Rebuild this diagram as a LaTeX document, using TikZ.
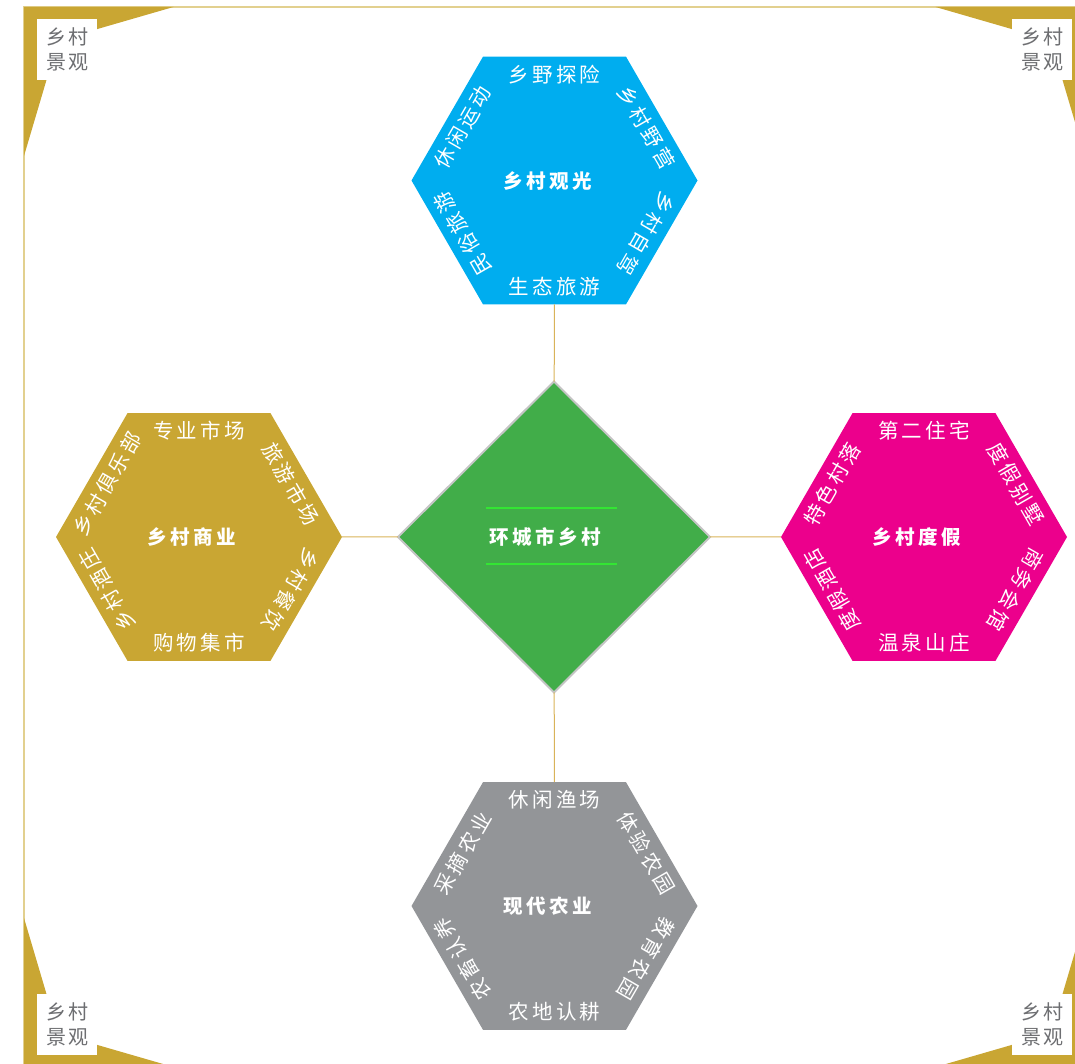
\documentclass[tikz,border=0pt]{standalone}
\usepackage{fontspec}
\usetikzlibrary{shapes.geometric}

\newfontfamily\cjkrim[LetterSpace=15]{Noto Sans CJK SC}
\newfontfamily\cjktag[LetterSpace=10]{Noto Sans CJK SC}
\newfontfamily\cjkhub[LetterSpace=18]{Noto Sans CJK SC}

\definecolor{sightblue}{HTML}{00ADEF}
\definecolor{resortpink}{HTML}{EC008C}
\definecolor{tradegold}{HTML}{C9A633}
\definecolor{farmgray}{HTML}{939598}
\definecolor{hubgreen}{HTML}{41AD49}
\definecolor{hubedge}{HTML}{C4C4C4}
\definecolor{hubline}{HTML}{33E633}
\definecolor{rimgold}{HTML}{E2D08F}
\definecolor{linkgold}{HTML}{D9B359}
\definecolor{taggray}{HTML}{6D6E71}

\tikzset{
  hexbox/.style={regular polygon, regular polygon sides=6, minimum size=286pt,
    inner sep=0pt, outer sep=0pt, text=white,
    font=\cjkhub\bfseries\fontsize{19.5}{22}\selectfont},
  rimtext/.style={text=white, inner sep=0pt,
    font=\cjkrim\fontsize{20.5}{24}\selectfont},
  cornerlabel/.style={fill=white, minimum width=60pt, minimum height=61pt,
    inner sep=0pt, align=left, text=taggray,
    font=\cjktag\fontsize{20}{24.5}\selectfont},
  link/.style={draw=linkgold, line width=1pt}
}

% six texts round a hexagon, from the top edge clockwise
\newcommand{\hexring}[7]{%
  \foreach \ang/\rot/\txt [count=\k] in {90/0/{#2}, 30/-60/{#3}, -30/-120/{#4},
      -90/0/{#5}, -150/120/{#6}, 150/60/{#7}}
    \node[rimtext, rotate=\rot] (#1-\k) at ([shift={(\ang:106)}]#1.center) {\txt};
}

\begin{document}
\begin{tikzpicture}[x=1pt,y=1pt]
        \useasboundingbox (0,0) rectangle (1075,1063);
        \clip (0,0) rectangle (1075,1063);

        % Drawing the frame
        \draw[rimgold, line width=1.5pt] (24,1056) rectangle (1085,-4);

        % Drawing the corner pieces
        \foreach \sx/\sy [count=\k] in {1/1,-1/1,1/-1,-1/-1}{
          \begin{scope}[shift={(554.5,526)}, xscale=\sx, yscale=\sy]
            \fill[tradegold] (-530.5,530) -- (-381,530) -- (-457,508) -- (-508,457) -- (-530.5,381) -- cycle;
            \node[cornerlabel] (tag\k) at (-487.5,487.5) {乡村\\景观};
          \end{scope}
        }

        % Drawing the hexagons
        \node[hexbox, fill=sightblue] (sight) at (554.5,882.5) {乡村观光\kern14pt};
        \node[hexbox, fill=tradegold] (trade) at (199,526) {乡村商业\kern14pt};
        \node[hexbox, fill=resortpink] (resort) at (924,526) {乡村度假\kern14pt};
        \node[hexbox, fill=farmgray] (farm) at (554.5,157) {现代农业\kern14pt};

        % Drawing the centre
        \node[diamond, aspect=1, minimum width=312pt, minimum height=311pt, inner sep=0pt,
          outer sep=0pt, fill=hubgreen, draw=hubedge, line width=2pt, text=white,
          font=\cjkhub\bfseries\fontsize{19.5}{22}\selectfont] (core) at (554,526) {环城市乡村\kern18pt};
        \draw[hubline, line width=2.5pt] ([shift={(-68,29)}]core.center) -- ([shift={(63,29)}]core.center);
        \draw[hubline, line width=2.5pt] ([shift={(-68,-27)}]core.center) -- ([shift={(63,-27)}]core.center);

        % Connectors
        \draw[link] (core) -- (sight);
        \draw[link] (core) -- (trade);
        \draw[link] (core) -- (resort);
        \draw[link] (core) -- (farm);

        % Annotations
        \hexring{sight}{乡野探险}{乡村野营}{乡村自驾}{生态旅游}{民俗旅游}{休闲运动}
        \hexring{trade}{专业市场}{旅游市场}{乡村餐饮}{购物集市}{乡村酒庄}{乡村俱乐部}
        \hexring{resort}{第二住宅}{度假别墅}{商务会馆}{温泉山庄}{度假酒店}{特色村落}
        \hexring{farm}{休闲渔场}{体验农园}{教育农园}{农地认耕}{农畜认养}{采摘农业}

\end{tikzpicture}
\end{document}
